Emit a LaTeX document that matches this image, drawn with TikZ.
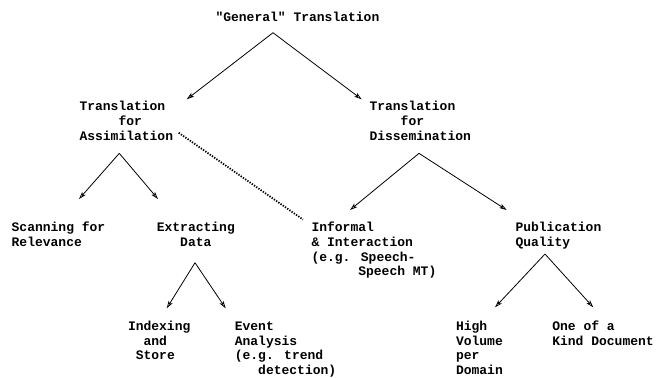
\documentclass[tikz,border=0pt]{standalone}
\usepackage{fontspec}
\newfontfamily\courfont{Liberation Mono}
\usetikzlibrary{arrows.meta,calc}
\newcommand{\sps}[1]{\hspace*{#1\fontcharwd\font`M}}
\begin{document}
\begin{tikzpicture}[x=1pt,y=-1pt,
  lbl/.style={anchor=base west,inner sep=0pt,outer sep=0pt,
    font=\courfont\bfseries\fontsize{13}{14.8}\selectfont},
  arr/.style={-{Stealth[open,length=7.5pt,width=4.6pt,inset=1.8pt]},line width=0.8pt},
  dotline/.style={line width=1.8pt,dash pattern=on 1.3pt off 1.4pt}]
\useasboundingbox (0,0) rectangle (657,378);
\node[lbl] (gen) at (215.5,21) {\begin{tabular}[t]{@{}l@{}}"General" Translation\end{tabular}};
\node[lbl] (assim) at (79.5,110.7) {\begin{tabular}[t]{@{}l@{}}Translation\\\sps{5}for\\Assimilation\end{tabular}};
\node[lbl] (dissem) at (369.5,110.7) {\begin{tabular}[t]{@{}l@{}}Translation\\\sps{4}for\\Dissemination\end{tabular}};
\node[lbl] (scan) at (11.7,231.5) {\begin{tabular}[t]{@{}l@{}}Scanning for\\Relevance\end{tabular}};
\node[lbl] (extr) at (156.8,231.5) {\begin{tabular}[t]{@{}l@{}}Extracting\\\sps{3}Data\end{tabular}};
\node[lbl] (inf) at (311.5,231.5) {\begin{tabular}[t]{@{}l@{}}Informal\\\& Interaction\\(e.g. Speech-\\\sps{6}Speech MT)\end{tabular}};
\node[lbl] (pub) at (515.5,231.5) {\begin{tabular}[t]{@{}l@{}}Publication\\Quality\end{tabular}};
\node[lbl] (idx) at (128,330.2) {\begin{tabular}[t]{@{}l@{}}Indexing\\\sps{2}and\\\sps{1}Store\end{tabular}};
\node[lbl] (evt) at (234.8,330.2) {\begin{tabular}[t]{@{}l@{}}Event\\Analysis\\(e.g. trend\\\sps{3}detection)\end{tabular}};
\node[lbl] (high) at (456,330.2) {\begin{tabular}[t]{@{}l@{}}High\\Volume\\per\\Domain\end{tabular}};
\node[lbl] (one) at (552.3,330.2) {\begin{tabular}[t]{@{}l@{}}One of a\\Kind Document\end{tabular}};
% connectors
\draw[arr] ($(gen.south west)+(57.5,7.3)$) -- ($(assim.north east)+(13.6,-1)$);
\draw[arr] ($(gen.south west)+(57.5,7.3)$) -- ($(dissem.north west)+(-7.8,-1)$);
\draw[arr] ($(assim.south west)+(39.8,8.6)$) -- ($(scan.north west)+(67.3,-22.1)$);
\draw[arr] ($(assim.south west)+(39.8,8.6)$) -- ($(extr.north west)+(1.2,-22.1)$);
\draw[arr] ($(dissem.south west)+(49.5,8.6)$) -- ($(inf.north west)+(38.5,-11.1)$);
\draw[arr] ($(dissem.south west)+(49.5,8.6)$) -- ($(pub.north west)+(-8.8,-11.1)$);
\draw[arr] ($(extr.south west)+(38.2,12)$) -- ($(idx.north west)+(38.7,-11.5)$);
\draw[arr] ($(extr.south west)+(38.2,12)$) -- ($(evt.north west)+(-9.1,-11.5)$);
\draw[arr] ($(pub.south west)+(29.5,3.3)$) -- ($(high.north west)+(39,-12.5)$);
\draw[arr] ($(pub.south west)+(29.5,3.3)$) -- ($(one.north west)+(41,-12.5)$);
\draw[dotline] ($(assim.north east)+(5.6,32.4)$) -- ($(inf.north west)+(-8.5,-1.6)$);
\end{tikzpicture}
\end{document}
